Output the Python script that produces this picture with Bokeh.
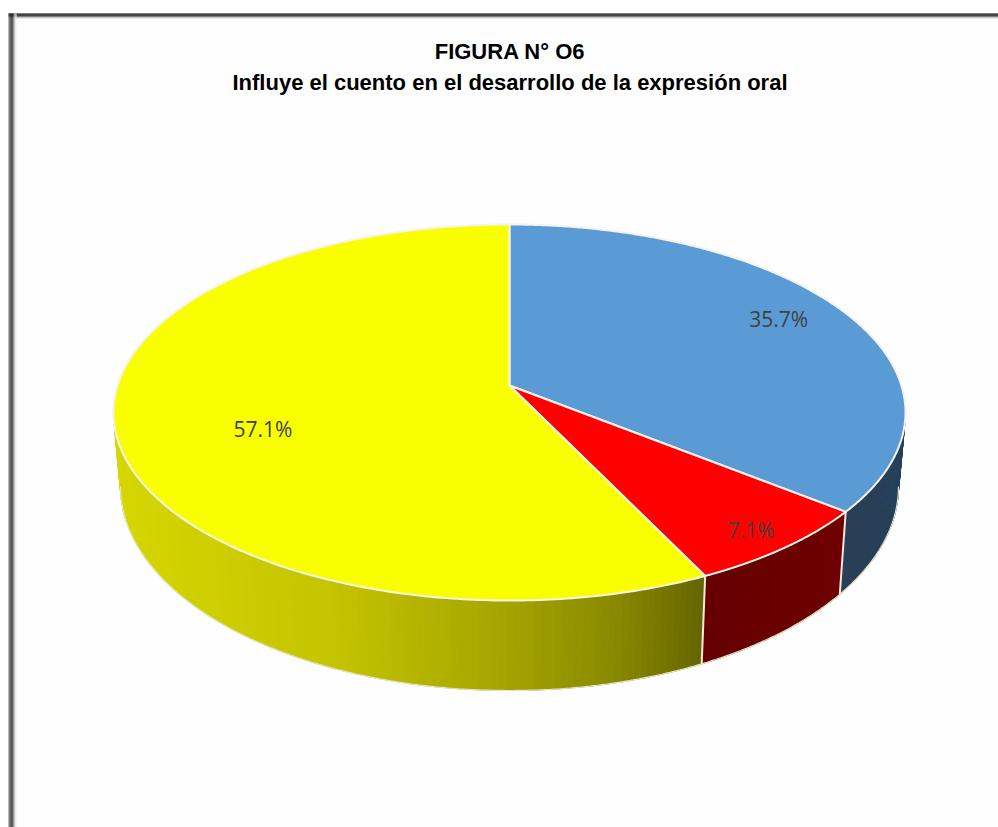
import numpy as np
from bokeh.plotting import figure
from bokeh.embed import file_html
from bokeh.resources import INLINE
from bokeh.core.properties import value

# Data
title_lines = ["FIGURA N° O6", "Influye el cuento en el desarrollo de la expresión oral"]
slice_values = [35.7, 7.1, 57.1]
slice_labels = ["35.7%", "7.1%", "57.1%"]
top_colors = ["#5B9BD5", "#FF0000", "#FAFF00"]

# Layout / style of the 3D pie
CX, CY, RX, RY = 509.0, 412.0, 396.0, 188.0   # top ellipse
APEX = -0.1436                                 # perspective shift of the disc centre
BOT_RX, BOT_CY, BOT_RY = 389.0, 486.0, 204.0   # bottom ellipse
label_radial = [0.80, 0.90, 0.65]
label_dx = [0, -3, 7]
label_dy = [-6, 0, 16]
wall_stops = [
    ([0.0, 1.0], ["#23405C", "#2A3F55"]),
    ([0.0, 1.0], ["#6E0000", "#660000"]),
    ([0.0, 0.37, 0.65, 0.85, 1.0], ["#D6D600", "#C4C400", "#A6A600", "#8A8A00", "#666600"]),
]


def project(u, v):
    """Disc point (u right, v toward viewer) to ellipse-unit coordinates."""
    d = 1 + APEX * v
    return u * np.sqrt(1 - APEX ** 2) / d, (v + APEX) / d


def top_xy(theta, r=1.0):
    U, V = project(r * np.sin(theta), -r * np.cos(theta))
    return CX + RX * U, CY + RY * V


def hex_rgb(h):
    return np.array([int(h[i:i + 2], 16) for i in (1, 3, 5)], dtype=float)


def ramp(t, stops):
    pos, cols = stops
    rgb = [np.interp(t, pos, [hex_rgb(c)[k] for c in cols]) for k in range(3)]
    return "#%02x%02x%02x" % tuple(int(round(c)) for c in rgb)


p = figure(width=998, height=827, x_range=(0, 998), y_range=(827, 0),
           output_backend="svg", toolbar_location=None, min_border=0,
           outline_line_color=None, background_fill_color="#FEFEFE",
           border_fill_color="#FFFFFF")
p.axis.visible = False
p.grid.visible = False

# Margin outside the frame is pure white
p.quad(left=[0, 0], right=[8, 998], top=[0, 0], bottom=[827, 13], fill_color="#FFFFFF", line_color=None)

total = sum(slice_values)
fracs = np.array(slice_values) / total
edges = np.concatenate([[0.0], np.cumsum(fracs)]) * 2 * np.pi

# Walls: only the front half (phi 0..pi on the ellipse) is visible
xs_w, ys_w, col_w = [], [], []
phi_of = lambda th: np.arctan2(*project(np.sin(th), -np.cos(th))[::-1])
phi_edges = [np.mod(phi_of(t), 2 * np.pi) for t in edges[1:3]]
ranges = [(0.0, phi_edges[0]), (phi_edges[0], phi_edges[1]), (phi_edges[1], np.pi)]
for i, (a, b) in enumerate(ranges):
    steps = max(2, int((b - a) / np.radians(1.0)))
    ph = np.linspace(a, b, steps + 1)
    for j in range(steps):
        p0, p1 = ph[j], ph[j + 1]
        t = (j + 0.5) / steps
        if i == 2:
            t = (np.cos(p0) - np.cos(b)) / (np.cos(a) - np.cos(b))
            t = float(np.clip(t, 0, 1))
        xs_w.append([CX + RX * np.cos(p0), CX + RX * np.cos(p1), CX + BOT_RX * np.cos(p1), CX + BOT_RX * np.cos(p0)])
        ys_w.append([CY + RY * np.sin(p0), CY + RY * np.sin(p1), BOT_CY + BOT_RY * np.sin(p1), BOT_CY + BOT_RY * np.sin(p0)])
        col_w.append(ramp(t, wall_stops[i]))
p.patches(xs_w, ys_w, fill_color=col_w, line_color=col_w, line_width=1)

# Outer edge of the walls
ph = np.linspace(0, np.pi, 361)
p.line(CX + BOT_RX * np.cos(ph), BOT_CY + BOT_RY * np.sin(ph), line_color="#E4E4C8", line_width=1.2)
ph_l = np.linspace(np.pi * 0.86, np.pi * 1.2, 80)
p.line(CX + RX * np.cos(ph_l), CY + RY * np.sin(ph_l), line_color="#D2D2C0", line_width=1.2)

# Seams between the walls
for pe in phi_edges:
    p.line([CX + RX * np.cos(pe), CX + BOT_RX * np.cos(pe)],
           [CY + RY * np.sin(pe), BOT_CY + BOT_RY * np.sin(pe)],
           line_color="#F4E8E0", line_width=2)

# Top surface
for i in range(3):
    th = np.linspace(edges[i], edges[i + 1], 300)
    x, y = top_xy(th)
    p.patch(np.r_[CX, x], np.r_[CY + RY * APEX, y], fill_color=top_colors[i],
            line_color="#F6F2EC", line_width=2, line_join="round")

# Data labels
lx, ly = [], []
for i in range(3):
    x, y = top_xy((edges[i] + edges[i + 1]) / 2, label_radial[i])
    lx.append(float(x) + label_dx[i]); ly.append(float(y) + label_dy[i])
p.text(lx, ly, text=slice_labels, text_font=value("Open Sans"), text_font_size="21px",
       text_color="#404040", text_align="center", text_baseline="middle")

# Title
p.text([509.5], [51], text=[title_lines[0]], text_font=value("Liberation Sans"), text_font_style="bold",
       text_font_size="22px", text_color="#000000", text_align="center", text_baseline="middle")
p.text([509.5], [82], text=[title_lines[1]], text_font=value("Liberation Sans"), text_font_style="bold",
       text_font_size="22px", text_color="#000000", text_align="center", text_baseline="middle")

# Frame of the screenshot (top and left rules)
for y0, c in [(13, "#000000"), (14, "#000000"), (15, "#111111"), (16, "#777777"), (17, "#CCCCCC"), (18, "#F2F2F2")]:
    p.quad(left=[8], right=[998], top=[y0], bottom=[y0 + 1], fill_color=c, line_color=None)
for x0, c in [(8, "#777777"), (9, "#444444"), (10, "#222222"), (11, "#222222"), (12, "#333333"),
              (13, "#888888"), (14, "#CCCCCC"), (15, "#F0F0F0")]:
    p.quad(left=[x0], right=[x0 + 1], top=[13], bottom=[827], fill_color=c, line_color=None)

open("out.html", "w").write(file_html(p, INLINE))
